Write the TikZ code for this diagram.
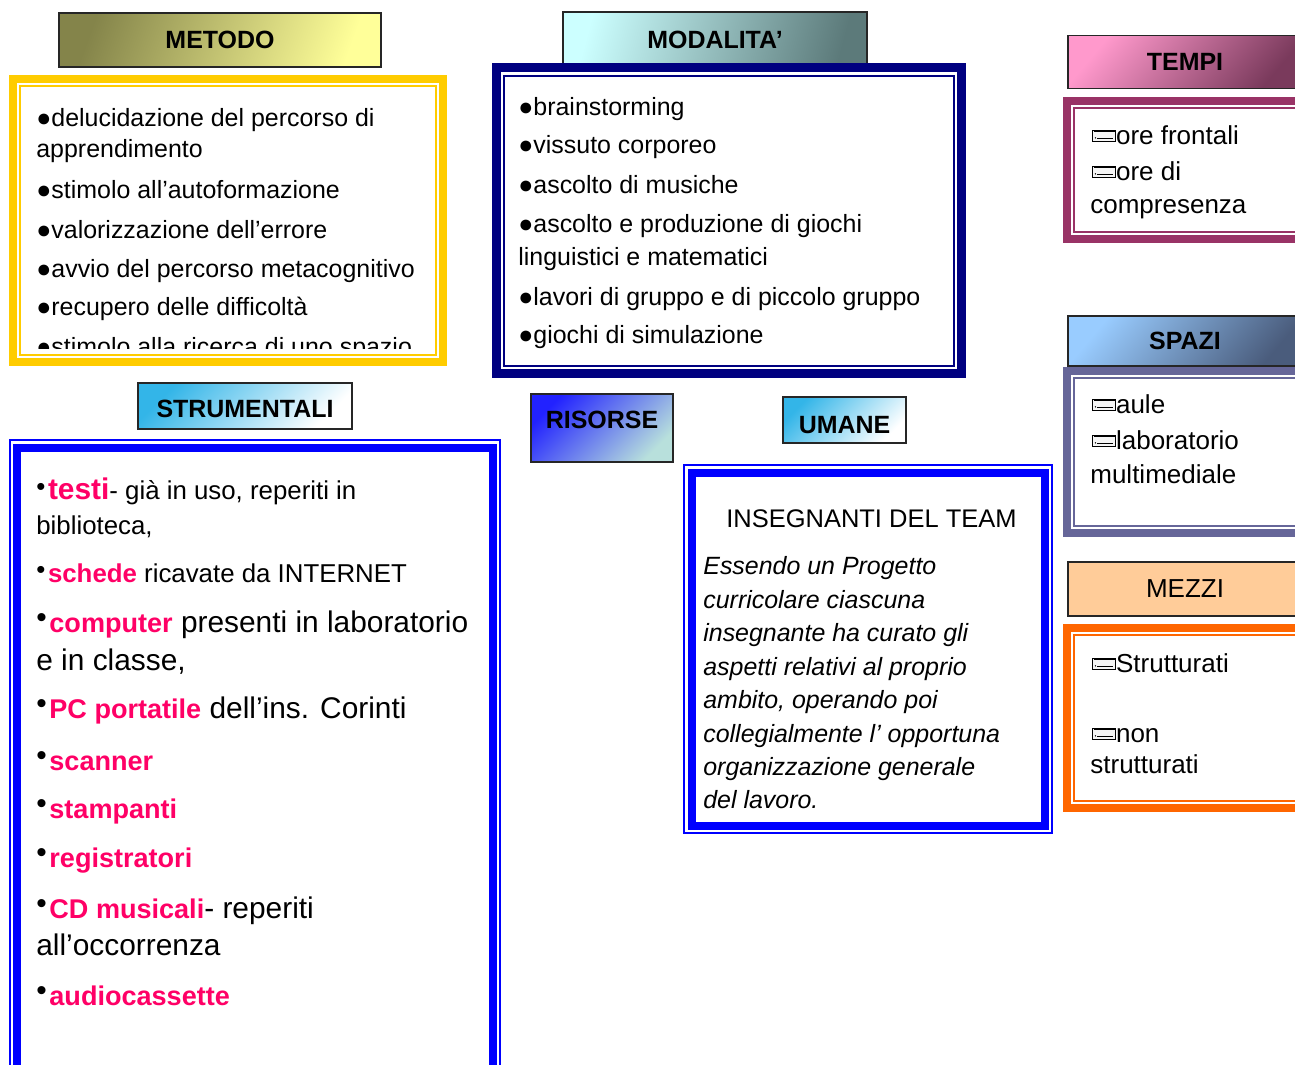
\documentclass[tikz,border=0pt]{standalone}
\usepackage{fontspec}
\setmainfont{Liberation Sans}
\newlength{\pxu}
\setlength{\pxu}{0.02cm}
\definecolor{metodoyellow}{HTML}{FFCC00}
\definecolor{modnavy}{HTML}{000080}
\definecolor{tempiplum}{HTML}{993366}
\definecolor{spaziblue}{HTML}{666699}
\definecolor{mezziorange}{HTML}{FF6600}
\definecolor{mezzifill}{HTML}{FFCC99}
\definecolor{frameblue}{HTML}{0000FF}
\definecolor{itempink}{HTML}{FF0066}
\definecolor{olivedark}{HTML}{84844A}
\definecolor{olivelight}{HTML}{FFFF99}
\definecolor{tealtop}{HTML}{CCFFFF}
\definecolor{tealbottom}{HTML}{5C7A7A}
\definecolor{pinktop}{HTML}{FF99CC}
\definecolor{pinkbottom}{HTML}{7A3A5C}
\definecolor{skytop}{HTML}{99CCFF}
\definecolor{skybottom}{HTML}{4A5C7C}
\definecolor{cyantop}{HTML}{33B5E8}
\definecolor{risorsetop}{HTML}{2222FF}
\definecolor{risorsebottom}{HTML}{B8E0DC}
\newcommand{\bodyfont}{\fontsize{14.2}{17}\selectfont}
\newcommand{\midfont}{\fontsize{14.7}{17}\selectfont}
\newcommand{\bigfont}{\fontsize{17}{20}\selectfont}
\newcommand{\sidefont}{\fontsize{14.8}{17}\selectfont}
\newcommand{\titlefont}{\fontsize{14.2}{17}\selectfont\bfseries}
\newcommand{\dotb}{●}
\newcommand{\sdot}{\raisebox{0.15em}{\textbullet}\hspace{1.5pt}}
\newcommand{\pk}[1]{{\color{itempink}\bfseries #1}}
\newcommand{\pkb}[1]{{\color{itempink}\bfseries\fontsize{15.4}{20}\selectfont #1}}
\newcommand{\keyicon}{\tikz[baseline=-1.7pt,x=1pt,y=1pt]{\draw[line width=0.5pt,fill=black!4] (0,0) rectangle (13,6);
  \draw[line width=0.8pt] (0.6,5.3) -- (12.4,5.3); \draw[line width=0.4pt] (2.6,1.8) -- (11.5,1.8); \fill (1.5,1.8) circle (0.45);}}
\tikzstyle{titlebox}=[draw=black!85, line width=1.5\pxu, inner sep=0pt, font=\titlefont]
\tikzstyle{entry}=[anchor=base west, inner sep=0pt, font=\bodyfont]
\tikzstyle{heavy}=[line width=8\pxu]
\tikzstyle{light}=[line width=1.5\pxu]

\begin{document}
\begin{tikzpicture}[x=0.02cm,y=-0.02cm]
    \useasboundingbox (0,0) rectangle (1295,1065);
    \fill[white] (0,0) rectangle (1295,1065);
    % Title boxes
    \node[titlebox, minimum width=322\pxu, minimum height=54\pxu, top color=olivedark, bottom color=olivelight, shading angle=70] (metodo) at (220,40) {METODO};
    \node[titlebox, minimum width=304\pxu, minimum height=52\pxu, text height=21.5\pxu, top color=tealtop, bottom color=tealbottom, shading angle=75] (modalita) at (715,38) {MODALITA'};
    \node[titlebox, minimum width=234\pxu, minimum height=53\pxu, top color=pinktop, bottom color=pinkbottom, shading angle=50] (tempi) at (1185,62) {TEMPI};
    \node[titlebox, minimum width=234\pxu, minimum height=50\pxu, top color=skytop, bottom color=skybottom, shading angle=50] (spazi) at (1185,341) {SPAZI};
    \node[titlebox, minimum width=234\pxu, minimum height=54\pxu, fill=mezzifill, font=\sidefont] (mezzi) at (1185,589) {MEZZI};
    \node[titlebox, minimum width=214\pxu, minimum height=46\pxu, text height=23\pxu, top color=cyantop, bottom color=white, shading angle=45] (strumentali) at (245,406) {STRUMENTALI};
    \node[titlebox, minimum width=142\pxu, minimum height=68\pxu, text depth=16\pxu, top color=risorsetop, bottom color=risorsebottom, shading angle=45] (risorse) at (602,428) {RISORSE};
    \node[titlebox, minimum width=123\pxu, minimum height=46\pxu, text height=27\pxu, top color=cyantop, bottom color=white, shading angle=45] (umane) at (844.5,420) {UMANE};

    % Frames: thick outside, thin inside
    \draw[metodoyellow, heavy] (13,79) rectangle (443,362);
    \draw[metodoyellow, light] (20,86) rectangle (436,355);
    \draw[modnavy, line width=9\pxu] (496.5,67.5) rectangle (961.5,373.5);
    \draw[modnavy, light] (504,76) rectangle (954,366);
    \draw[tempiplum, heavy] (1067,101) rectangle (1320,239);
    \draw[tempiplum, light] (1074,108) rectangle (1320,232);
    \draw[spaziblue, heavy] (1067,371) rectangle (1320,533);
    \draw[spaziblue, light] (1074,378) rectangle (1320,526);
    \draw[mezziorange, heavy] (1067,628) rectangle (1320,808);
    \draw[mezziorange, light] (1074,635) rectangle (1320,801);
    % Frames: thin outside, thick inside
    \draw[frameblue, light] (10,440) rectangle (500,1100);
    \draw[frameblue, heavy] (17,448) rectangle (493,1100);
    \draw[frameblue, light] (684,465) rectangle (1052,833);
    \draw[frameblue, heavy] (691.5,472.5) rectangle (1044.5,825.5);

    % Metodo (last line cut by the frame)
    \begin{scope}
        \clip (21,87) rectangle (435,348);
        \foreach \y/\txt/\name in {126/{\dotb delucidazione del percorso di}/met1, 157/{apprendimento}/met2,
            198/{\dotb stimolo all’autoformazione}/met3, 238/{\dotb valorizzazione dell’errore}/met4,
            277/{\dotb avvio del percorso metacognitivo}/met5, 315/{\dotb recupero delle difficoltà}/met6,
            355/{\dotb stimolo alla ricerca di uno spazio}/met7}
            \node[entry] (\name) at (36,\y) {\txt};
    \end{scope}

    % Modalita'
    \foreach \y/\txt/\name in {115/{\dotb brainstorming}/mod1, 153/{\dotb vissuto corporeo}/mod2,
        193/{\dotb ascolto di musiche}/mod3, 232/{\dotb ascolto e produzione di giochi}/mod4,
        265/{linguistici e matematici}/mod5, 305/{\dotb lavori di gruppo e di piccolo gruppo}/mod6,
        343/{\dotb giochi di simulazione}/mod7}
        \node[entry] (\name) at (518,\y) {\txt};

    % Tempi, spazi, mezzi
    \foreach \pos/\txt/\name in {{(1092,144)}/{\keyicon ore frontali}/tem1, {(1092,180)}/{\keyicon ore di}/tem2,
        {(1090,213)}/{compresenza}/tem3, {(1092,413)}/{\keyicon aule}/spa1, {(1092,449)}/{\keyicon laboratorio}/spa2,
        {(1090,483)}/{multimediale}/spa3, {(1092,672)}/{\keyicon Strutturati}/mez1, {(1092,742)}/{\keyicon non}/mez2,
        {(1090,773)}/{strutturati}/mez3}
        \node[entry, font=\sidefont] (\name) at \pos {\txt};

    % Strumentali
    \foreach \y/\f/\txt/\name in {499/\midfont/{\sdot{\color{itempink}\bfseries\fontsize{17}{20}\selectfont testi}- già in uso, reperiti in}/str1,
        534/\midfont/{biblioteca,}/str2,
        582/\midfont/{\sdot\pk{schede} ricavate da INTERNET}/str3,
        632/\bigfont/{\sdot\pkb{computer} presenti in laboratorio}/str4,
        670/\bigfont/{e in classe,}/str5,
        718/\bigfont/{\sdot\pkb{PC portatile} dell’ins. Corinti}/str6,
        770/\bigfont/{\sdot\pkb{scanner}}/str7,
        818/\bigfont/{\sdot\pkb{stampanti}}/str8,
        867/\bigfont/{\sdot\pkb{registratori}}/str9,
        918/\bigfont/{\sdot\pkb{CD musicali}- reperiti}/str10,
        955/\bigfont/{all’occorrenza}/str11,
        1005/\bigfont/{\sdot\pkb{audiocassette}}/str12}
        \node[entry, font=\f] (\name) at (36,\y) {\txt};

    % Umane
    \node[entry, font=\fontsize{14.5}{17}\selectfont] (team) at (726,527) {INSEGNANTI DEL TEAM};
    \foreach \y/\txt/\name in {574/{Essendo un Progetto}/uma1, 608/{curricolare ciascuna}/uma2,
        641/{insegnante ha curato gli}/uma3, 675/{aspetti relativi al proprio}/uma4,
        708/{ambito, operando poi}/uma5, 742/{collegialmente l’ opportuna}/uma6,
        775/{organizzazione generale}/uma7, 808/{del lavoro.}/uma8}
        \node[entry, font=\fontsize{14.2}{17}\selectfont\itshape] (\name) at (703,\y) {\txt};
\end{tikzpicture}
\end{document}
